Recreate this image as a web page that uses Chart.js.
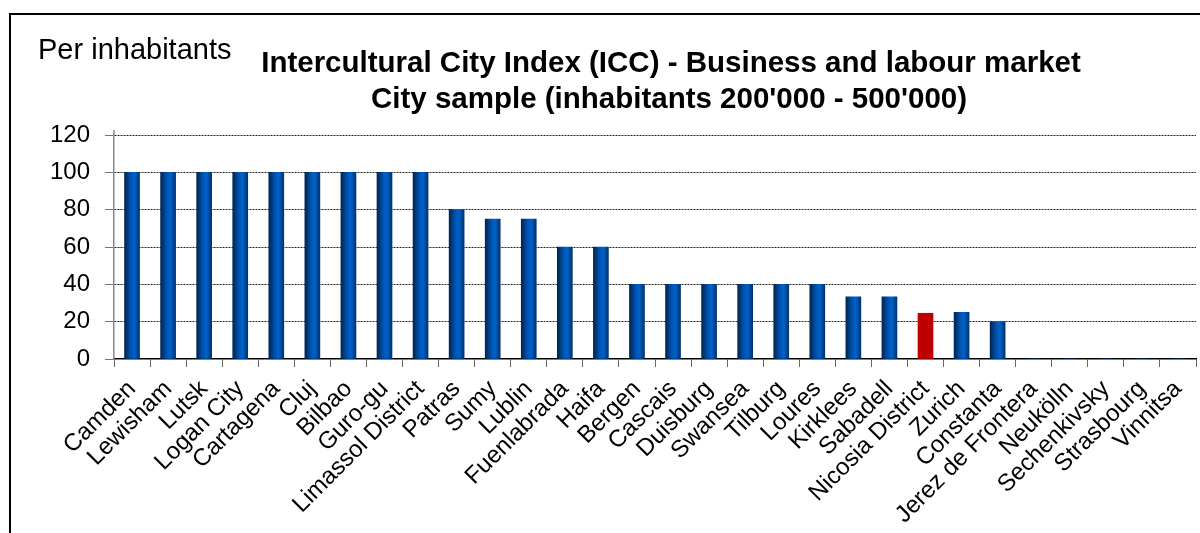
<!DOCTYPE html>
<html>
<head>
<meta charset="utf-8">
<script src="https://cdn.jsdelivr.net/npm/chart.js@4.4.0/dist/chart.umd.min.js"></script>
<style>
html,body{margin:0;padding:0;background:#fff;}
#wrap{width:1200px;height:533px;position:relative;}
</style>
</head>
<body>
<div id="wrap"><canvas id="c" width="1200" height="533"></canvas></div>
<script>
const categories = ["Camden","Lewisham","Lutsk","Logan City","Cartagena","Cluj","Bilbao","Guro-gu","Limassol District","Patras","Sumy","Lublin","Fuenlabrada","Haifa","Bergen","Cascais","Duisburg","Swansea","Tilburg","Loures","Kirklees","Sabadell","Nicosia District","Zurich","Constanta","Jerez de Frontera","Neukölln","Sechenkivsky","Strasbourg","Vinnitsa"];
const values = [100,100,100,100,100,100,100,100,100,80,75,75,60,60,40,40,40,40,40,40,33.3,33.3,24.5,25,20,0,0,0,0,0];
const highlighted = "Nicosia District";
const yTicks = [0,20,40,60,80,100,120];
const titleLines = ["Intercultural City Index (ICC) - Business and labour market","City sample (inhabitants 200'000 - 500'000)"];
const yAxisLabel = "Per inhabitants";

const FONT = "'Liberation Sans', Arial, sans-serif";
const BAR_W = 15;

function barColor(ctx){
  const chart = ctx.chart;
  if (categories[ctx.dataIndex] === highlighted) return '#C00000';
  if (!chart.chartArea) return '#0058B8';
  const x = chart.scales.x.getPixelForValue(ctx.dataIndex);
  const g = chart.ctx.createLinearGradient(x - BAR_W/2, 0, x + BAR_W/2, 0);
  g.addColorStop(0, '#002550');
  g.addColorStop(0.4, '#0052AE');
  g.addColorStop(0.65, '#0062CC');
  g.addColorStop(1, '#00336E');
  return g;
}

const decor = {
  id: 'decor',
  beforeDraw(chart){
    const c = chart.ctx;
    c.save();
    c.fillStyle = '#fff';
    c.fillRect(0,0,chart.width,chart.height);
    c.restore();
  },
  afterDraw(chart){
    const c = chart.ctx;
    const a = chart.chartArea;
    c.save();
    // y axis line extends slightly above top gridline
    c.strokeStyle = '#888';
    c.lineWidth = 1.5;
    c.beginPath(); c.moveTo(a.left, a.top - 5); c.lineTo(a.left, a.top); c.stroke();
    c.strokeStyle = '#000';
    c.lineWidth = 2;
    c.strokeRect(10, 14, 1400, 800);
    c.fillStyle = '#000';
    c.textBaseline = 'alphabetic';
    c.textAlign = 'left';
    c.font = "29px " + FONT;
    c.fillText(yAxisLabel, 38, 59);
    c.textAlign = 'center';
    c.font = "bold 29.5px " + FONT;
    c.fillText(titleLines[0], 671, 72);
    c.fillText(titleLines[1], 669, 108);
    c.restore();
  }
};

new Chart(document.getElementById('c'), {
  type: 'bar',
  data: {
    labels: categories,
    datasets: [{
      data: values,
      backgroundColor: barColor,
      borderWidth: 0,
      barThickness: BAR_W
    }]
  },
  plugins: [decor],
  options: {
    responsive: false,
    animation: false,
    devicePixelRatio: 1,
    layout: { padding: { top: 135, right: 4, left: 0, bottom: 0 } },
    plugins: { legend: { display: false }, title: { display: false }, tooltip: { enabled: false } },
    scales: {
      x: {
        afterFit(s){ s.height = 174; s.paddingLeft = 0; s.paddingRight = 0; },
        grid: { display: true, drawOnChartArea: false, drawTicks: true, tickLength: 8, tickColor: '#666', offset: true },
        border: { display: true, color: '#000', width: 1.5 },
        ticks: {
          autoSkip: false, minRotation: 45, maxRotation: 45,
          color: '#000', padding: 8,
          font: { family: FONT, size: 24 }
        }
      },
      y: {
        min: 0, max: 120,
        afterFit(s){ s.width = 114; },
        afterBuildTicks(s){ s.ticks = yTicks.map(v => ({ value: v })); },
        grid: {
          color: (ctx) => ctx.tick && ctx.tick.value === 0 ? 'rgba(0,0,0,0)' : '#222',
          lineWidth: 1, drawTicks: true, tickLength: 9, tickColor: '#777'
        },
        border: { display: true, color: '#888', width: 1.5, dash: [2, 1] },
        ticks: { color: '#000', padding: 15, font: { family: FONT, size: 24 } }
      }
    }
  }
});
</script>
</body>
</html>
